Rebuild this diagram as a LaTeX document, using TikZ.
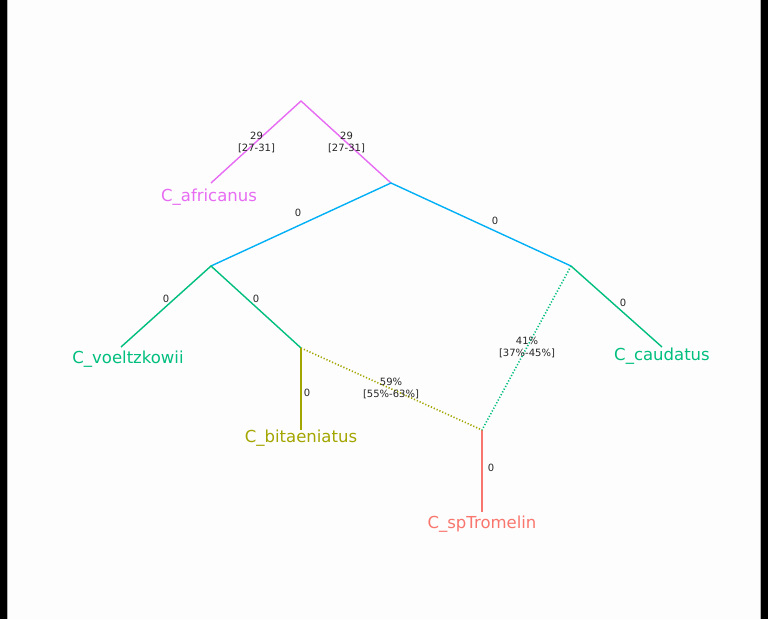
\documentclass[tikz,border=0pt]{standalone}
\usepackage{fontspec}
\setmainfont{DejaVu Sans}
\definecolor{cred}{HTML}{F8766D}
\definecolor{colive}{HTML}{A3A500}
\definecolor{cgreen}{HTML}{00BF7D}
\definecolor{cblue}{HTML}{00B0F6}
\definecolor{cmag}{HTML}{E76BF3}
\definecolor{bgc}{HTML}{FDFDFD}
\tikzset{
  edge/.style={line width=1.4pt},
  hyb/.style={line width=1.6pt, dash pattern=on 1.2pt off 1.9pt},
  leaf/.style={font=\fontsize{16.5}{18}\selectfont, anchor=base, inner sep=0pt},
  elab/.style={font=\fontsize{10}{12}\selectfont, align=center, inner sep=0pt, text=black!85},
  vtx/.style={inner sep=0pt, minimum size=0pt}
}
\begin{document}
\begin{tikzpicture}[x=1pt,y=-1pt]
\useasboundingbox (0,0) rectangle (768,619);
\fill[bgc] (0,0) rectangle (768,619);
\fill[black] (0,0) rectangle (7,619);
\fill[black] (761,0) rectangle (768,619);
\draw[gray!60, line width=0.8pt] (7.4,0) -- (7.4,619);
\draw[gray!60, line width=0.8pt] (760.6,0) -- (760.6,619);
% vertices
\coordinate (R) at (301,101);
\coordinate (Af) at (211,183);
\coordinate (A) at (391,183);
\coordinate (B) at (211,266);
\coordinate (C) at (571,266);
\coordinate (Vo) at (121,347);
\coordinate (D) at (301,348);
\coordinate (Bi) at (301,430);
\coordinate (H) at (482,430);
\coordinate (Sp) at (482,512);
\coordinate (Ca) at (662,347);
% edges
\draw[edge, cmag] (Af) -- (R) -- (A);
\draw[edge, cblue] (B) -- (A) -- (C);
\draw[edge, cgreen] (Vo) -- (B) -- (D);
\draw[edge, cgreen] (C) -- (Ca);
\draw[edge, colive] (D) -- (Bi);
\draw[edge, cred] (H) -- (Sp);
\draw[hyb, colive] (D) -- (H);
\draw[hyb, cgreen] (C) -- (H);
% leaf labels
\node[leaf, text=cmag] (lAf) at (209,201) {C\_africanus};
\node[leaf, text=cgreen] (lVo) at (128,363) {C\_voeltzkowii};
\node[leaf, text=colive] (lBi) at (301,442) {C\_bitaeniatus};
\node[leaf, text=cred] (lSp) at (482,528) {C\_spTromelin};
\node[leaf, text=cgreen] (lCa) at (662,360) {C\_caudatus};
% edge labels
\node[elab] (e1) at (256.5,142) {29\\{}[27-31]};
\node[elab] (e2) at (346.5,142) {29\\{}[27-31]};
\node[elab] (e3) at (298,213) {0};
\node[elab] (e4) at (495,221) {0};
\node[elab] (e5) at (166,299) {0};
\node[elab] (e6) at (256,299) {0};
\node[elab] (e7) at (623,303) {0};
\node[elab] (e8) at (307,393) {0};
\node[elab] (e9) at (491,468) {0};
\node[elab] (e10) at (391,388) {59\%\\{}[55\%-63\%]};
\node[elab] (e11) at (527,347) {41\%\\{}[37\%-45\%]};
\end{tikzpicture}
\end{document}
